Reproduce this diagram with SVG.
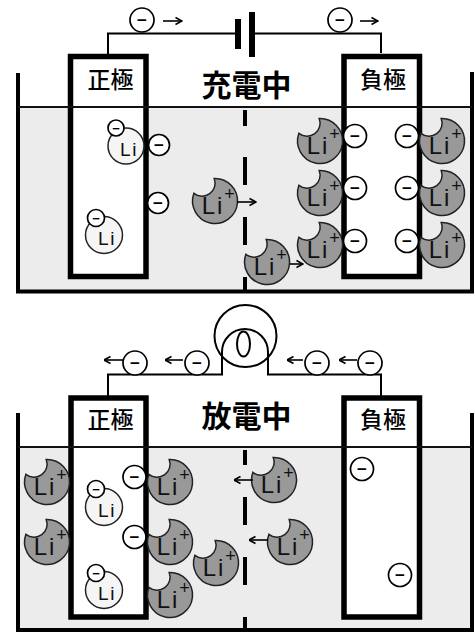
<svg xmlns="http://www.w3.org/2000/svg" xmlns:xlink="http://www.w3.org/1999/xlink" width="475" height="632" viewBox="0 0 475 632">
  <style>
    .liquid { fill: #ececec; }
    .wall { fill: none; stroke: #000; stroke-width: 4; }
    .electrode { fill: #fff; stroke: #000; stroke-width: 5.5; }
    .surface { stroke: #111; stroke-width: 1.8; }
    .sep { stroke: #000; stroke-width: 4; fill: none; }
    .wire { fill: none; stroke: #000; stroke-width: 2; }
    .plate { stroke: #000; stroke-width: 6; }
    .arrow { fill: none; stroke: #000; stroke-width: 1.6; marker-end: url(#head); }
    .e circle { fill: #fff; stroke: #000; stroke-width: 1.7; }
    .e text { font-family: "Liberation Sans", Arial, sans-serif; font-weight: bold; font-size: 17px; text-anchor: middle; fill: #000; }
    .e.small text { font-size: 13px; }
    .atom > circle { fill: #f5f5f5; stroke: #222; stroke-width: 1.5; }
    .atom .sym { font-family: "Liberation Sans", Arial, sans-serif; font-size: 19px; letter-spacing: 1.5px; text-anchor: middle; fill: #111; }
    .ion use { fill: #999; stroke: #222; stroke-width: 1.5; }
    .ion .sym { font-family: "Liberation Sans", Arial, sans-serif; font-size: 24px; letter-spacing: 2px; text-anchor: middle; fill: #111; }
    .ion .chg { font-family: "Liberation Sans", Arial, sans-serif; font-size: 18px; text-anchor: middle; fill: #111; }
    .title { font-family: "Noto Sans CJK JP", "Noto Sans CJK SC", sans-serif; font-size: 30px; font-weight: 700; text-anchor: middle; fill: #000; }
    .label { font-family: "Noto Sans CJK JP", "Noto Sans CJK SC", sans-serif; font-size: 23px; font-weight: 500; text-anchor: middle; fill: #000; }
  </style>
  <defs>
    <!-- lithium ion body: disc with a bite taken from the upper left -->
    <path id="ion-body" d="M-0.8,-22.5 A22.5,22.5 0 1 1 -21.1,-7.7 A13,13 0 0 0 -0.8,-22.5 Z"/>
    <marker id="head" viewBox="0 0 8 10" markerWidth="8" markerHeight="10" refX="7.5" refY="5" markerUnits="userSpaceOnUse" orient="auto">
      <path d="M1,1.5 L7.5,5 L1,8.5" fill="none" stroke="#000" stroke-width="1.6"/>
    </marker>
  </defs>

  <!-- ===================== charging ===================== -->
  <g id="charge-cell">
    <rect class="liquid" x="18" y="107" width="454" height="184.5"/>
    <path class="wall" d="M18,73 V291.5 H472 V72"/>
  </g>
  <g id="charge-cathode">
    <rect class="electrode" x="70.5" y="56.5" width="75.5" height="220"/>
  </g>
  <g id="charge-anode">
    <rect class="electrode" x="344" y="56.5" width="75.5" height="220"/>
  </g>
  <line class="surface" x1="18" y1="107" x2="472" y2="107"/>
  <path class="sep" d="M245,110V126 M245,157V185 M245,217V245 M245,277V290"/>

  <g id="charge-circuit">
    <path class="wire" d="M108,54 V33.5 H235 M255,33.5 H381 V53"/>
    <line class="plate" x1="238" y1="19" x2="238" y2="49"/>
    <line class="plate" x1="252" y1="12" x2="252" y2="57"/>
  </g>

  <g id="charge-labels">
    <text class="title" x="246.5" y="95.5">充電中</text>
    <text class="label" x="110.5" y="88">正極</text>
    <text class="label" x="383" y="88">負極</text>
  </g>

  <g id="charge-flow">
    <g class="e"><circle cx="142" cy="20" r="12"/><text x="142" y="26">−</text></g>
    <path class="arrow" d="M163,21 H182"/>
    <g class="e"><circle cx="340" cy="20" r="12"/><text x="340" y="26">−</text></g>
    <path class="arrow" d="M360,21 H378"/>
  </g>

  <g id="charge-cathode-atoms">
    <g class="atom" transform="translate(126,146)">
      <circle r="18"/><text class="sym" x="3" y="10">Li</text>
      <g class="e small"><circle cx="-10" cy="-18" r="8"/><text x="-10" y="-13.5">−</text></g>
    </g>
    <g class="atom" transform="translate(104,235)">
      <circle r="18.5"/><text class="sym" x="3" y="10">Li</text>
      <g class="e small"><circle cx="-8" cy="-17" r="8.5"/><text x="-8" y="-12.5">−</text></g>
    </g>
    <g class="e"><circle cx="159" cy="145" r="10.5"/><text x="159" y="151">−</text></g>
    <g class="e"><circle cx="158" cy="203" r="10.5"/><text x="158" y="209">−</text></g>
  </g>

  <g id="charge-anode-electrons">
    <g class="e"><circle cx="355" cy="136" r="11.5"/><text x="355" y="142">−</text></g>
    <g class="e"><circle cx="355" cy="188" r="11.5"/><text x="355" y="194">−</text></g>
    <g class="e"><circle cx="355" cy="241" r="11.5"/><text x="355" y="247">−</text></g>
    <g class="e"><circle cx="407" cy="136" r="11.5"/><text x="407" y="142">−</text></g>
    <g class="e"><circle cx="407" cy="188" r="11.5"/><text x="407" y="194">−</text></g>
    <g class="e"><circle cx="407" cy="241" r="11.5"/><text x="407" y="247">−</text></g>
  </g>

  <g id="charge-ions">
    <g class="ion" transform="translate(215,201)"><use href="#ion-body"/><text class="sym" x="-2" y="12.5">Li</text><text class="chg" x="14.5" y="-1">+</text></g>
    <g class="ion" transform="translate(267,262)"><use href="#ion-body"/><text class="sym" x="-2" y="12.5">Li</text><text class="chg" x="14.5" y="-1">+</text></g>
    <g class="ion" transform="translate(320,141)"><use href="#ion-body"/><text class="sym" x="-2" y="12.5">Li</text><text class="chg" x="14.5" y="-1">+</text></g>
    <g class="ion" transform="translate(320,193)"><use href="#ion-body"/><text class="sym" x="-2" y="12.5">Li</text><text class="chg" x="14.5" y="-1">+</text></g>
    <g class="ion" transform="translate(320,245)"><use href="#ion-body"/><text class="sym" x="-2" y="12.5">Li</text><text class="chg" x="14.5" y="-1">+</text></g>
    <g class="ion" transform="translate(442,141)"><use href="#ion-body"/><text class="sym" x="-2" y="12.5">Li</text><text class="chg" x="14.5" y="-1">+</text></g>
    <g class="ion" transform="translate(442,193)"><use href="#ion-body"/><text class="sym" x="-2" y="12.5">Li</text><text class="chg" x="14.5" y="-1">+</text></g>
    <g class="ion" transform="translate(442,245)"><use href="#ion-body"/><text class="sym" x="-2" y="12.5">Li</text><text class="chg" x="14.5" y="-1">+</text></g>
    <path class="arrow" d="M237,202 H256"/>
    <path class="arrow" d="M290,264 H303"/>
  </g>

  <!-- ===================== discharging ===================== -->
  <g id="discharge-cell">
    <rect class="liquid" x="18" y="447" width="454" height="183"/>
    <path class="wall" d="M18,413 V630 H472 V413"/>
  </g>
  <g id="discharge-cathode">
    <rect class="electrode" x="71" y="398" width="75" height="219"/>
  </g>
  <g id="discharge-anode">
    <rect class="electrode" x="344" y="398" width="75.5" height="219"/>
  </g>
  <line class="surface" x1="18" y1="447" x2="472" y2="447"/>
  <path class="sep" d="M245,450V465 M245,497V525 M245,557V585 M245,617V628"/>

  <g id="discharge-circuit">
    <path class="wire" d="M108,396 V374.5 H222 V352 A23,23 0 0 1 268,352 V374.5 H381 V396"/>
    <circle cx="245.5" cy="336" r="31" fill="none" stroke="#000" stroke-width="2"/>
    <ellipse cx="243.5" cy="344" rx="6.5" ry="12.5" fill="none" stroke="#000" stroke-width="2"/>
  </g>

  <g id="discharge-labels">
    <text class="title" x="246.5" y="427">放電中</text>
    <text class="label" x="110.5" y="428">正極</text>
    <text class="label" x="383" y="428">負極</text>
  </g>

  <g id="discharge-flow">
    <path class="arrow" d="M123,360 H104"/>
    <g class="e"><circle cx="135" cy="363" r="12"/><text x="135" y="369">−</text></g>
    <path class="arrow" d="M183,360 H165"/>
    <g class="e"><circle cx="197" cy="363" r="12"/><text x="197" y="369">−</text></g>
    <path class="arrow" d="M303,360 H287"/>
    <g class="e"><circle cx="317" cy="363" r="12"/><text x="317" y="369">−</text></g>
    <path class="arrow" d="M357,360 H339"/>
    <g class="e"><circle cx="370" cy="363" r="12"/><text x="370" y="369">−</text></g>
  </g>

  <g id="discharge-cathode-atoms">
    <g class="atom" transform="translate(104,507)">
      <circle r="18.5"/><text class="sym" x="3" y="10">Li</text>
      <g class="e small"><circle cx="-8" cy="-18" r="8.5"/><text x="-8" y="-13.5">−</text></g>
    </g>
    <g class="atom" transform="translate(104,590)">
      <circle r="18.5"/><text class="sym" x="3" y="10">Li</text>
      <g class="e small"><circle cx="-8" cy="-17" r="8.5"/><text x="-8" y="-12.5">−</text></g>
    </g>
    <g class="e"><circle cx="134.5" cy="477" r="11.5"/><text x="134.5" y="483">−</text></g>
    <g class="e"><circle cx="134.5" cy="537" r="11.5"/><text x="134.5" y="543">−</text></g>
  </g>

  <g id="discharge-anode-electrons">
    <g class="e"><circle cx="362" cy="469" r="11.5"/><text x="362" y="475">−</text></g>
    <g class="e"><circle cx="400" cy="575" r="11.5"/><text x="400" y="581">−</text></g>
  </g>

  <g id="discharge-ions">
    <g class="ion" transform="translate(47,482)"><use href="#ion-body"/><text class="sym" x="-2" y="12.5">Li</text><text class="chg" x="14.5" y="-1">+</text></g>
    <g class="ion" transform="translate(47,542)"><use href="#ion-body"/><text class="sym" x="-2" y="12.5">Li</text><text class="chg" x="14.5" y="-1">+</text></g>
    <g class="ion" transform="translate(170,482)"><use href="#ion-body"/><text class="sym" x="-2" y="12.5">Li</text><text class="chg" x="14.5" y="-1">+</text></g>
    <g class="ion" transform="translate(170,542)"><use href="#ion-body"/><text class="sym" x="-2" y="12.5">Li</text><text class="chg" x="14.5" y="-1">+</text></g>
    <g class="ion" transform="translate(170,595)"><use href="#ion-body"/><text class="sym" x="-2" y="12.5">Li</text><text class="chg" x="14.5" y="-1">+</text></g>
    <g class="ion" transform="translate(216,563)"><use href="#ion-body"/><text class="sym" x="-2" y="12.5">Li</text><text class="chg" x="14.5" y="-1">+</text></g>
    <g class="ion" transform="translate(274,480)"><use href="#ion-body"/><text class="sym" x="-2" y="12.5">Li</text><text class="chg" x="14.5" y="-1">+</text></g>
    <g class="ion" transform="translate(290,542)"><use href="#ion-body"/><text class="sym" x="-2" y="12.5">Li</text><text class="chg" x="14.5" y="-1">+</text></g>
    <path class="arrow" d="M253,480 H234"/>
    <path class="arrow" d="M268,540 H249"/>
  </g>
</svg>
